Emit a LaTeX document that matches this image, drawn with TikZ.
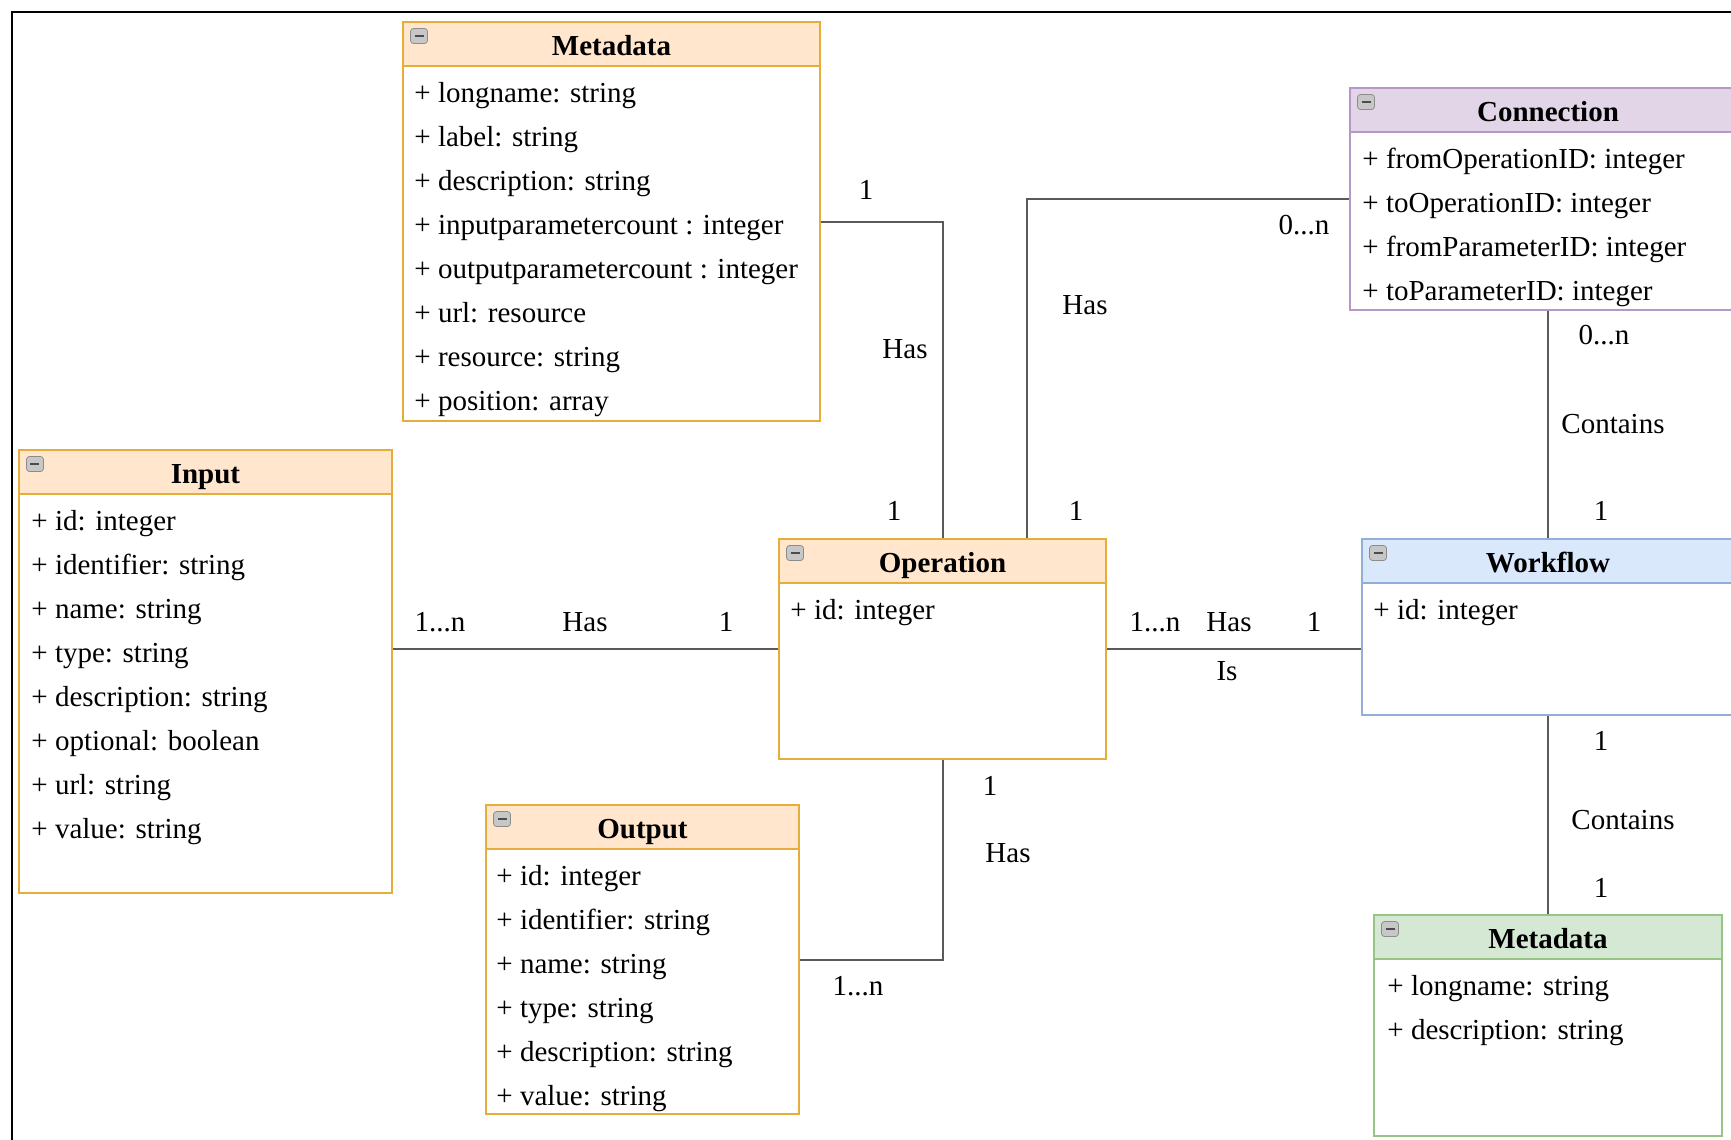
\documentclass[tikz,border=0pt]{standalone}
\usepackage{fontspec}
\setmainfont{Liberation Serif}
\usetikzlibrary{calc}

\definecolor{opfill}{HTML}{FFE6CC}
\definecolor{opdraw}{HTML}{E5AE3A}
\definecolor{cnfill}{HTML}{E1D5E7}
\definecolor{cndraw}{HTML}{B797C7}
\definecolor{wffill}{HTML}{DAE8FC}
\definecolor{wfdraw}{HTML}{93AED9}
\definecolor{mdfill}{HTML}{D5E8D4}
\definecolor{mddraw}{HTML}{98C485}
\definecolor{linkgray}{HTML}{5A5A5A}

\newcommand{\umlsize}{\fontsize{14.5pt}{22pt}\selectfont}
\newcommand{\iconbar}{\textcolor{black!70}{\rule{4.5pt}{1.3pt}}}

\tikzstyle{box} = [draw, line width=1pt, fill=white, inner sep=0pt, anchor=north west]
\tikzstyle{head} = [draw, line width=1pt, anchor=north, minimum height=22pt, inner sep=0pt, font=\umlsize\bfseries, text height=13pt, text depth=2pt]
\tikzstyle{attr} = [anchor=base west, inner sep=0pt, font=\umlsize]
\tikzstyle{icon} = [rectangle, rounded corners=1.5pt, fill=black!22, draw=black!45, line width=0.4pt, minimum width=8.5pt, minimum height=7.5pt, inner sep=0pt]
\tikzstyle{link} = [draw=linkgray, line width=1pt]
\tikzstyle{card} = [inner sep=0pt, font=\umlsize]

\begin{document}
\begin{tikzpicture}[x=0.5pt, y=-0.5pt]
\useasboundingbox (0,0) rectangle (1731,1140);
\clip (0,0) rectangle (1731,1140);
%frame
\draw[line width=1pt] (1760,12) -- (12,12) -- (12,1160);

%begin Metadata (top)
\node[box, draw=opdraw, minimum width=208.5pt, minimum height=199.5pt] (meta) at (402,21) {};
\node[head, fill=opfill, draw=opdraw, minimum width=208.5pt] (metahead) at (meta.north) {Metadata};
\node[icon] (metaicon) at ($(meta.north west)+(17,15)$) {\iconbar};
\foreach \txt [count=\i from 0] in {+ longname: string, + label: string, + description: string,
    + inputparametercount : integer, + outputparametercount : integer, + url: resource,
    + resource: string, + position: array}
  \node[attr] (meta-\i) at ($(meta.north west)+(12,81+44*\i)$) {\txt};
%end Metadata (top)

%begin Input
\node[box, draw=opdraw, minimum width=186.5pt, minimum height=221.5pt] (in) at (18,449) {};
\node[head, fill=opfill, draw=opdraw, minimum width=186.5pt] (inhead) at (in.north) {Input};
\node[icon] (inicon) at ($(in.north west)+(17,15)$) {\iconbar};
\foreach \txt [count=\i from 0] in {+ id: integer, + identifier: string, + name: string,
    + type: string, + description: string, + optional: boolean, + url: string, + value: string}
  \node[attr] (in-\i) at ($(in.north west)+(13,81+44*\i)$) {\txt};
%end Input

%begin Operation
\node[box, draw=opdraw, minimum width=163.5pt, minimum height=110pt] (op) at (778,538) {};
\node[head, fill=opfill, draw=opdraw, minimum width=163.5pt] (ophead) at (op.north) {Operation};
\node[icon] (opicon) at ($(op.north west)+(17,15)$) {\iconbar};
\node[attr] (op-0) at ($(op.north west)+(12,81)$) {+ id: integer};
%end Operation

%begin Output
\node[box, draw=opdraw, minimum width=156.5pt, minimum height=154.5pt] (out) at (485,804) {};
\node[head, fill=opfill, draw=opdraw, minimum width=156.5pt] (outhead) at (out.north) {Output};
\node[icon] (outicon) at ($(out.north west)+(17,15)$) {\iconbar};
\foreach \txt [count=\i from 0] in {+ id: integer, + identifier: string, + name: string,
    + type: string, + description: string, + value: string}
  \node[attr] (out-\i) at ($(out.north west)+(11,81+44*\i)$) {\txt};
%end Output

%begin Connection
\node[box, draw=cndraw, minimum width=198pt, minimum height=111pt] (conn) at (1349,87) {};
\node[head, fill=cnfill, draw=cndraw, minimum width=198pt] (connhead) at (conn.north) {Connection};
\node[icon] (connicon) at ($(conn.north west)+(17,15)$) {\iconbar};
\foreach \txt [count=\i from 0] in {+ fromOperationID: integer, + toOperationID: integer,
    + fromParameterID: integer, + toParameterID: integer}
  \node[attr] (conn-\i) at ($(conn.north west)+(13,81+44*\i)$) {\txt};
%end Connection

%begin Workflow
\node[box, draw=wfdraw, minimum width=186pt, minimum height=88pt] (wf) at (1361,538) {};
\node[head, fill=wffill, draw=wfdraw, minimum width=186pt] (wfhead) at (wf.north) {Workflow};
\node[icon] (wficon) at ($(wf.north west)+(17,15)$) {\iconbar};
\node[attr] (wf-0) at ($(wf.north west)+(12,81)$) {+ id: integer};
%end Workflow

%begin Metadata (workflow)
\node[box, draw=mddraw, minimum width=174pt, minimum height=110.5pt] (wfmeta) at (1373,914) {};
\node[head, fill=mdfill, draw=mddraw, minimum width=174pt] (wfmetahead) at (wfmeta.north) {Metadata};
\node[icon] (wfmetaicon) at ($(wfmeta.north west)+(17,15)$) {\iconbar};
\foreach \txt [count=\i from 0] in {+ longname: string, + description: string}
  \node[attr] (wfmeta-\i) at ($(wfmeta.north west)+(14,81+44*\i)$) {\txt};
%end Metadata (workflow)

%begin links
\draw[link] (meta.east) -| (op.north);
\coordinate (opconn) at ($(op.north)+(84.5,0)$);
\draw[link] (opconn) |- (conn.west);
\draw[link] (op.west) -- (op.west -| in.east);
\draw[link] (op.east) -- (op.east -| wf.west);
\draw[link] (conn.south) -- (wf.north);
\draw[link] (wf.south) -- (wfmeta.north);
\draw[link] (op.south) |- (out.east);
%end links

%begin labels
\node[card] (c1) at (866,190) {1};
\node[card] (c2) at (905,349) {Has};
\node[card] (c3) at (894,511) {1};
\node[card] (c4) at (1085,305) {Has};
\node[card] (c5) at (1304,225) {0...n};
\node[card] (c6) at (1076,511) {1};
\node[card] (c7) at (440,622) {1...n};
\node[card] (c8) at (585,622) {Has};
\node[card] (c9) at (726,622) {1};
\node[card] (c10) at (1155,622) {1...n};
\node[card] (c11) at (1229,622) {Has};
\node[card] (c12) at (1314,622) {1};
\node[card] (c13) at (1227,671) {Is};
\node[card] (c14) at (1604,335) {0...n};
\node[card] (c15) at (1613,424) {Contains};
\node[card] (c16) at (1601,511) {1};
\node[card] (c17) at (1601,741) {1};
\node[card] (c18) at (1623,820) {Contains};
\node[card] (c19) at (1601,888) {1};
\node[card] (c20) at (990,786) {1};
\node[card] (c21) at (1008,853) {Has};
\node[card] (c22) at (858,986) {1...n};
%end labels
\end{tikzpicture}
\end{document}
